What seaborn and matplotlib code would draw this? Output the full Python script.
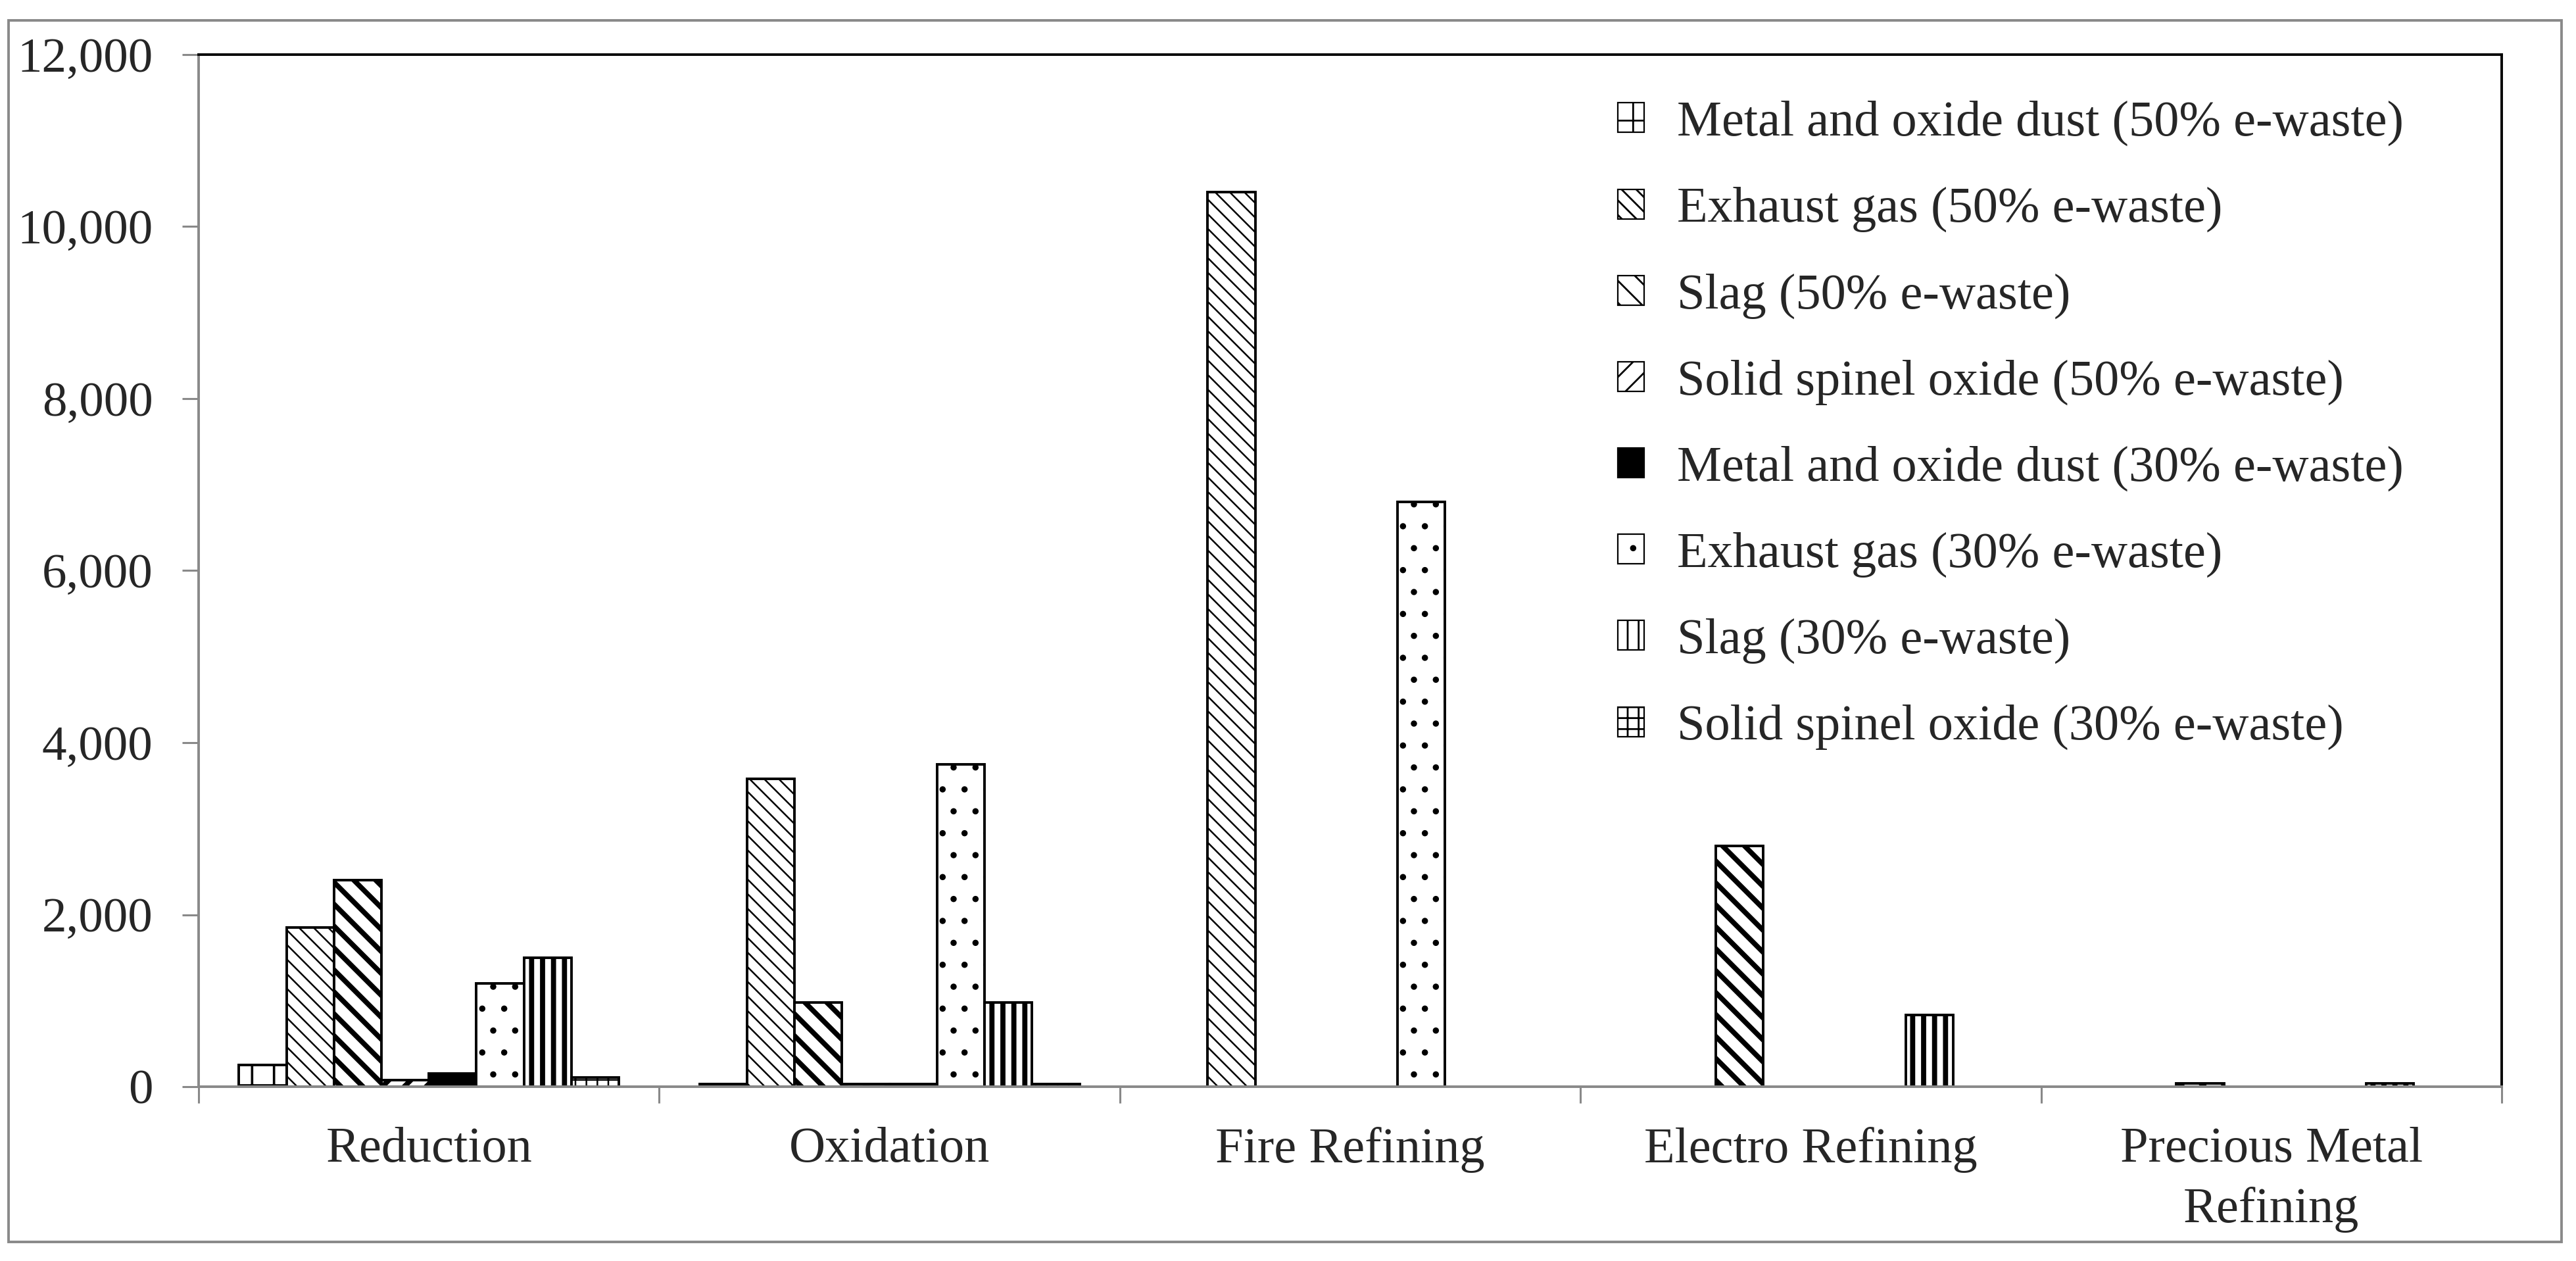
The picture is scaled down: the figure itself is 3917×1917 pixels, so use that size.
import numpy as np
import pandas as pd
import matplotlib
matplotlib.use("Agg")
import matplotlib.pyplot as plt
import seaborn as sns
from matplotlib.patches import Rectangle, Patch
from matplotlib.ticker import FuncFormatter

# ---------------- data ----------------
stages = ["Reduction", "Oxidation", "Fire Refining", "Electro Refining",
          "Precious Metal\nRefining"]
series = ["Metal and oxide dust (50% e-waste)",
          "Exhaust gas (50% e-waste)",
          "Slag (50% e-waste)",
          "Solid spinel oxide (50% e-waste)",
          "Metal and oxide dust (30% e-waste)",
          "Exhaust gas (30% e-waste)",
          "Slag (30% e-waste)",
          "Solid spinel oxide (30% e-waste)"]
metal_dust_50 = [250, 30, 0, 0, 0]
exhaust_50 = [1850, 3580, 10400, 0, 0]
slag_50 = [2400, 980, 0, 2800, 40]
spinel_50 = [80, 30, 0, 0, 0]
metal_dust_30 = [150, 30, 0, 0, 0]
exhaust_30 = [1200, 3750, 6800, 0, 0]
slag_30 = [1500, 980, 0, 830, 40]
spinel_30 = [110, 30, 0, 0, 0]
y_ticks = [0, 2000, 4000, 6000, 8000, 10000, 12000]

values = [metal_dust_50, exhaust_50, slag_50, spinel_50,
          metal_dust_30, exhaust_30, slag_30, spinel_30]
rows = []
for s, vals in zip(series, values):
    for st, v in zip(stages, vals):
        rows.append({"stage": st, "series": s, "value": v})
df = pd.DataFrame(rows)

# ---------------- style ----------------
sns.set_theme(style="white")
plt.rcParams["font.family"] = ["Liberation Serif", "DejaVu Serif"]
plt.rcParams["hatch.color"] = "black"

W, H, DPI = 3917, 1917, 200
fig = plt.figure(figsize=(W / DPI, H / DPI), dpi=DPI)
fig.patch.set_facecolor("white")

left, right, top, bottom = 302, 3804, 83, 1652
ax = fig.add_axes([left / W, 1 - bottom / H, (right - left) / W, (bottom - top) / H])

fills = ["white", "white", "white", "white", "black", "white", "white", "white"]
palette = dict(zip(series, fills))
hatches = ["+", "\\\\\\", "\\\\", "//", "", ".", "||", "++"]
hatch_lw = [1.3, 0.9, 2.8, 2.8, 1.0, 1.0, 2.8, 0.9]

sns.barplot(data=df, x="stage", y="value", hue="series", order=stages,
            hue_order=series, palette=palette, width=0.825, gap=0,
            edgecolor="black", linewidth=1.4, saturation=1, legend=False,
            errorbar=None, ax=ax)


def with_hatch_lw(artist, lw):
    orig = artist.draw

    def draw(renderer, *a, **k):
        with plt.rc_context({"hatch.linewidth": lw}):
            return orig(renderer, *a, **k)
    artist.draw = draw


for i, cont in enumerate(ax.containers):
    for bar in cont:
        bar.set_hatch(hatches[i])
        if hasattr(bar, "set_hatch_linewidth"):
            bar.set_hatch_linewidth(hatch_lw[i])
        with_hatch_lw(bar, hatch_lw[i])
        if bar.get_height() == 0:
            bar.set_visible(False)

ax.set_xlim(-0.5, 4.5)
ax.set_ylim(0, 12000)
ax.set_yticks(y_ticks)
ax.yaxis.set_major_formatter(FuncFormatter(lambda v, p: f"{v:,.0f}"))
ax.set_xlabel("")
ax.set_ylabel("")

grey = "#898989"
for side in ["left", "bottom"]:
    ax.spines[side].set_color(grey)
    ax.spines[side].set_linewidth(1.4)
for side in ["top", "right"]:
    ax.spines[side].set_color("black")
    ax.spines[side].set_linewidth(1.4)
    ax.spines[side].set_visible(True)

ax.tick_params(axis="y", direction="out", length=9, width=1.1, color=grey,
               pad=16, labelsize=27, left=True)
ax.set_xticks(np.arange(-0.5, 5.0, 1.0), minor=True)
ax.tick_params(axis="x", which="major", length=0, pad=22, labelsize=27.5)
ax.tick_params(axis="x", which="minor", direction="out", length=9, width=1.1,
               color=grey, bottom=True)
for lab in ax.get_xticklabels():
    lab.set_linespacing(1.4)

# legend
handles = [Patch(facecolor=f, edgecolor="black", hatch=h, linewidth=0.8)
           for f, h in zip(fills, hatches)]
leg = fig.legend(handles, series, loc="upper left",
                 bbox_to_anchor=(2460 / W, 1 - 153 / H), frameon=False,
                 fontsize=27.5, handlelength=0.53, handleheight=0.53,
                 handletextpad=0.65, labelspacing=0.81, borderpad=0,
                 borderaxespad=0)

# outer chart frame
fig.add_artist(Rectangle((13 / W, 1 - 1888 / H), (3895 - 13) / W, (1888 - 31) / H,
                         transform=fig.transFigure, fill=False,
                         edgecolor=grey, linewidth=1.4))

fig.savefig("out.png", dpi=DPI, facecolor="white")
